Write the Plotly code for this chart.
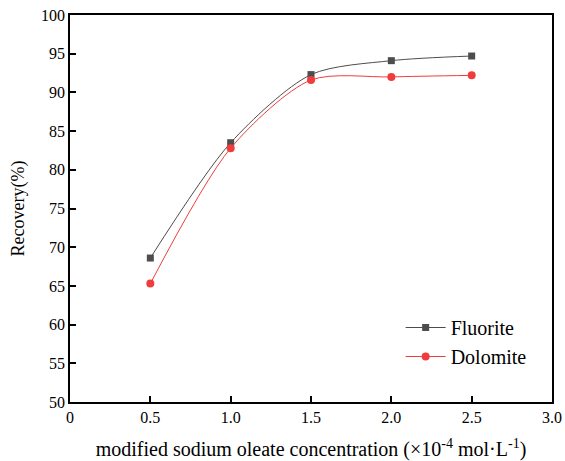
import plotly.graph_objects as go

conc = [0.5, 1.0, 1.5, 2.0, 2.5]
fluorite = [68.6, 83.5, 92.3, 94.1, 94.7]
dolomite = [65.3, 82.8, 91.6, 92.0, 92.2]

FONT = "Liberation Serif"

fig = go.Figure()
fig.add_trace(go.Scatter(
    x=conc, y=fluorite, name="Fluorite", mode="lines+markers",
    line=dict(color="#4d4d4d", width=1, shape="spline", smoothing=0.8),
    marker=dict(symbol="square", size=7, color="#4d4d4d"),
))
fig.add_trace(go.Scatter(
    x=conc, y=dolomite, name="Dolomite", mode="lines+markers",
    line=dict(color="#f03c3c", width=1, shape="spline", smoothing=0.8),
    marker=dict(symbol="circle", size=8, color="#f03c3c"),
))

fig.update_layout(
    width=565, height=461,
    margin=dict(l=70, r=13, t=15, b=59, autoexpand=False),
    paper_bgcolor="white", plot_bgcolor="white",
    font=dict(family=FONT, size=15, color="black"),
    legend=dict(x=0.686, y=0.155, xanchor="left", yanchor="middle",
                bgcolor="rgba(0,0,0,0)", font=dict(family=FONT, size=20),
                tracegroupgap=0, itemwidth=40),
    xaxis=dict(range=[0, 3.0], tickvals=[0, 0.5, 1.0, 1.5, 2.0, 2.5, 3.0],
               ticktext=["0", "0.5", "1.0", "1.5", "2.0", "2.5", "3.0"],
               ticks="inside", ticklen=6, tickwidth=1.5, tickcolor="black",
               showline=True, linecolor="black", linewidth=1.5, mirror=True,
               showgrid=False, zeroline=False, automargin=False,
               tickfont=dict(family=FONT, size=16),
               title=dict(text="modified sodium oleate concentration (×10<sup>-4</sup> mol·L<sup>-1</sup>)",
                          font=dict(family=FONT, size=20), standoff=18)),
    yaxis=dict(range=[50, 100], tickvals=list(range(50, 101, 5)),
               ticks="inside", ticklen=6, tickwidth=1.5, tickcolor="black",
               showline=True, linecolor="black", linewidth=1.5, mirror=True,
               showgrid=False, zeroline=False, automargin=False,
               tickfont=dict(family=FONT, size=16),
               title=dict(text="Recovery(%)", font=dict(family=FONT, size=18), standoff=12)),
)

fig.write_html("out.html")
